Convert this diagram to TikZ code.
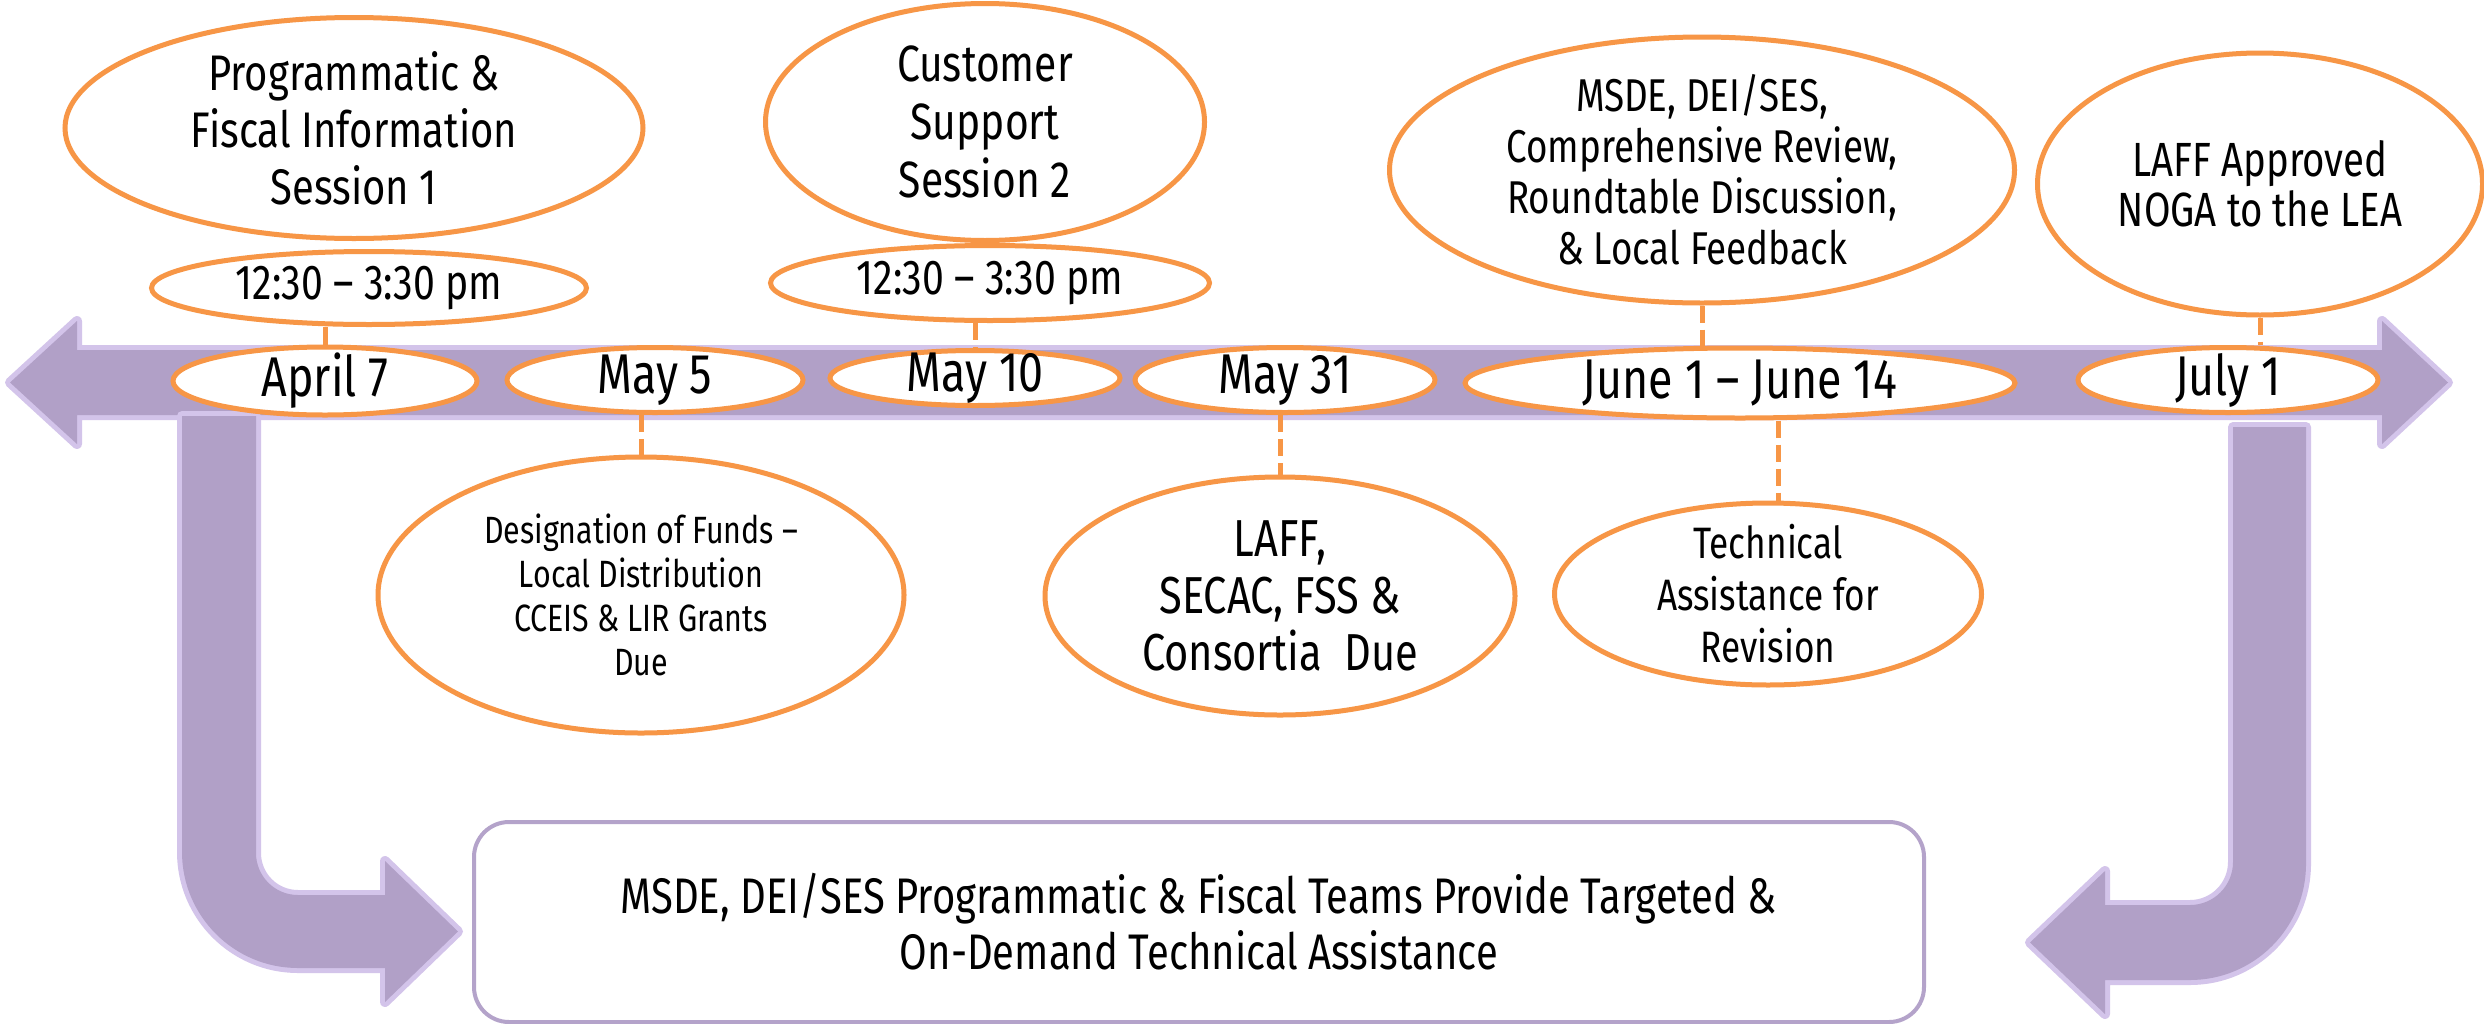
\documentclass[tikz,border=0pt]{standalone}
\usepackage{fontspec}
\setmainfont{Fira Sans}[FakeStretch=0.8]
\usetikzlibrary{shapes.geometric}
\definecolor{orng}{HTML}{F79646}
\definecolor{purp}{HTML}{B1A0C7}
\definecolor{glowc}{HTML}{D3C4EA}
\definecolor{boxc}{HTML}{B4A3CA}
\newcommand\myfs[2]{\fontsize{#1}{#2}\selectfont}
\begin{document}
\begin{tikzpicture}[x=1pt,y=-1pt,
 bigarrow/.style={fill=purp, preaction={draw=glowc, line width=10pt, line join=round}},
 oval/.style={ellipse, draw=orng, line width=5pt, fill=white, inner sep=0pt},
 lbl/.style={align=center, inner sep=0pt, text=black},
 conn/.style={draw=orng, line width=5pt},
 dconn/.style={conn, dash pattern=on 17pt off 7pt},
 datef/.style={lbl, font=\myfs{56}{66}},
]
\fill[white] (0,0) rectangle (2484,1023);
\useasboundingbox (0,0) rectangle (2484,1023);

% main timeline arrow
\path[bigarrow] (10,382.5) -- (77,321) -- (77,350) -- (2382,350) -- (2382,321)
  -- (2448,382.5) -- (2382,444) -- (2382,415) -- (77,415) -- (77,444) -- cycle;

% left bent arrow
\path[bigarrow] (182,416) -- (256,416) -- (256,853)
  .. controls (256,876.2) and (274.8,895) .. (298,895) -- (385,895) -- (385,861)
  -- (458,931.5) -- (385,1002) -- (385,968) -- (298,968)
  .. controls (234,968) and (182,916) .. (182,852) -- cycle;

% right bent arrow
\path[bigarrow] (2233,427) -- (2306,427) -- (2306,864)
  .. controls (2306,928) and (2254,980) .. (2190,980) -- (2105,980) -- (2105,1014)
  -- (2030,942.5) -- (2105,871) -- (2105,905) -- (2190,905)
  .. controls (2213.7,905) and (2233,885.7) .. (2233,862) -- cycle;

% bottom box
\node[draw=boxc, line width=4pt, fill=white, rounded corners=35pt, minimum width=1450pt,
  minimum height=200pt, inner sep=0pt, align=center, font=\myfs{50}{56}] (bx) at (1199,922)
  {MSDE, DEI/SES Programmatic \& Fiscal Teams Provide Targeted \&\\On-Demand Technical Assistance};

% date ovals
\node[oval, minimum width=304pt, minimum height=68pt] (d1) at (325,381) {};
\node[oval, minimum width=296pt, minimum height=65pt] (d2) at (655,380) {};
\node[oval, minimum width=290pt, minimum height=55pt] (d3) at (975,378) {};
\node[oval, minimum width=300pt, minimum height=65pt] (d4) at (1285,380) {};
\node[oval, minimum width=550pt, minimum height=70pt] (d5) at (1740,383) {};
\node[oval, minimum width=300pt, minimum height=65pt] (d6) at (2228,380) {};
\node[datef] (d1t) at (d1) {April 7};
\node[datef] (d2t) at (d2) {May 5};
\node[datef] (d3t) at (d3) {May 10};
\node[datef] (d4t) at (d4) {May 31};
\node[datef] (d5t) at (d5) {June 1 – June 14};
\node[datef] (d6t) at (d6) {July 1};

% upper ovals
\node[oval, minimum width=578pt, minimum height=221pt] (A) at (354,128) {};
\node[lbl, font=\myfs{50}{57}] (At) at (A) {Programmatic \&\\Fiscal Information\\Session 1};
\node[oval, minimum width=435pt, minimum height=73pt] (T1) at (369,288) {};
\node[lbl, font=\myfs{49}{55}] (T1t) at (T1) {12:30 – 3:30 pm};
\node[oval, minimum width=439pt, minimum height=237pt] (B) at (985,122) {};
\node[lbl, font=\myfs{51}{58}] (Bt) at (B) {Customer\\Support\\Session 2};
\node[oval, minimum width=439pt, minimum height=75pt] (T2) at (990,283) {};
\node[lbl, font=\myfs{49}{55}] (T2t) at (T2) {12:30 – 3:30 pm};
\node[oval, minimum width=625pt, minimum height=266pt] (C) at (1702,170) {};
\node[lbl, font=\myfs{46}{51}] (Ct) at (C) {MSDE, DEI/SES,\\Comprehensive Review,\\Roundtable Discussion,\\\& Local Feedback};
\node[oval, minimum width=445pt, minimum height=262pt] (D) at (2260,184) {};
\node[lbl, font=\myfs{48}{50}] (Dt) at (D) {LAFF Approved\\NOGA to the LEA};

% lower ovals
\node[oval, minimum width=526pt, minimum height=276pt] (E) at (641,595) {};
\node[lbl, font=\myfs{38}{44}] (Et) at (E) {Designation of Funds –\\Local Distribution\\CCEIS \& LIR Grants\\Due};
\node[oval, minimum width=470pt, minimum height=238pt] (F) at (1280,596) {};
\node[lbl, font=\myfs{52}{57}] (Ft) at (F) {LAFF,\\SECAC, FSS \&\\Consortia\ \ Due};
\node[oval, minimum width=427pt, minimum height=182pt] (G) at (1768,594) {};
\node[lbl, font=\myfs{44}{52}] (Gt) at (G) {Technical\\Assistance for\\Revision};

% connectors
\draw[conn] (d1.north) -- (d1.north |- T1.south);
\draw[dconn] (T2.south -| d3.north) -- (d3.north);
\draw[dconn] (C.south) -- (C.south |- d5.north);
\draw[dconn] (D.south) -- (D.south |- d6.north);
\draw[dconn] (E.north |- d2.south) -- (E.north);
\draw[dconn] (F.north |- d4.south) -- (F.north);
\draw[dconn] ([xshift=10pt]G.north |- d5.south) -- ([xshift=10pt]G.north);
\end{tikzpicture}
\end{document}
